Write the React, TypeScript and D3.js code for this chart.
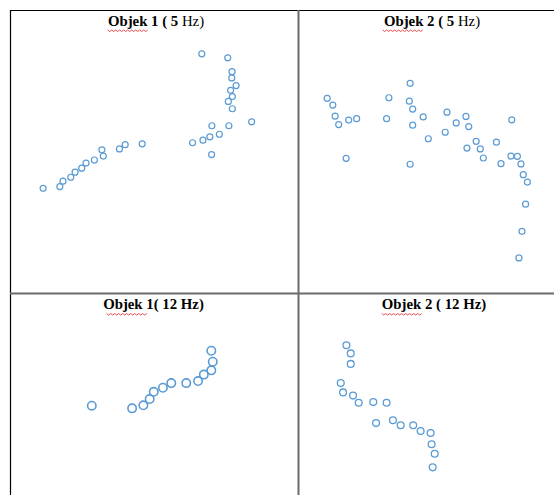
import React from "react";
import * as d3 from "d3";

const W = 554;
const H = 495;

// Panel titles
const titles = ["Objek 1 ( 5 Hz)", "Objek 2 ( 5 Hz)", "Objek 1( 12 Hz)", "Objek 2 ( 12 Hz)"];

// Objek 1 (5 Hz)
const obj1_5x = [66.6, 75.6, 77.1, 77.0, 78.5, 76.6, 77.2, 75.8, 77.2, 83.9, 76.0, 70.1, 72.7, 69.4, 67.0, 63.4, 70.0, 45.9, 40.0, 38.0, 31.9, 32.4, 29.3, 26.4, 24.9, 22.6, 21.1, 18.4, 17.3, 11.5];
const obj1_5y = [84.5, 83.1, 78.2, 76.0, 73.3, 71.6, 69.4, 67.7, 65.1, 60.5, 59.1, 59.1, 56.1, 55.2, 54.0, 53.1, 48.9, 52.7, 52.4, 50.9, 50.6, 48.4, 47.0, 45.9, 44.1, 42.7, 40.9, 39.5, 37.6, 37.0];

// Objek 2 (5 Hz)
const obj2_5x = [11.4, 13.6, 14.5, 15.9, 19.8, 22.9, 18.8, 35.5, 34.6, 43.8, 43.5, 44.8, 44.8, 43.8, 48.9, 50.9, 58.2, 57.5, 61.8, 65.6, 66.7, 66.0, 69.6, 71.2, 72.4, 77.5, 79.3, 83.5, 83.2, 85.7, 87.1, 88.0, 89.6, 88.9, 87.5, 86.3];
const obj2_5y = [68.8, 66.4, 62.5, 59.5, 61.1, 61.6, 47.6, 69.0, 61.6, 74.1, 67.8, 65.0, 59.3, 45.5, 62.2, 54.5, 63.9, 56.8, 60.1, 62.4, 58.8, 51.2, 53.6, 50.9, 47.7, 53.3, 45.7, 61.2, 48.4, 48.3, 45.6, 41.8, 39.2, 31.4, 21.8, 12.4];

// Objek 1 (12 Hz)
const obj1_12x = [28.4, 42.4, 46.3, 48.5, 49.9, 53.1, 56.0, 61.2, 65.3, 67.3, 69.9, 70.4, 69.9];
const obj1_12y = [44.2, 42.9, 44.4, 47.5, 51.1, 53.1, 55.4, 55.4, 56.4, 59.6, 61.7, 66.0, 71.4];

// Objek 2 (12 Hz)
const obj2_12x = [18.9, 20.6, 20.6, 16.7, 17.6, 21.5, 23.7, 29.4, 34.6, 30.5, 37.1, 40.1, 45.0, 47.9, 51.8, 52.2, 53.4, 52.6];
const obj2_12y = [74.1, 70.1, 64.9, 55.4, 50.8, 49.2, 45.7, 46.0, 45.7, 35.6, 37.0, 34.5, 34.5, 31.7, 30.7, 25.1, 20.4, 13.7];

const BLUE = "#5B9BD5";

type Panel = {
  xs: number[];
  ys: number[];
  x0: number; x1: number; y0: number; y1: number;
  title: string;
  tx: number; ty: number; sx: number;
  r: number; sw: number;
};

const panels: Panel[] = [
  { xs: obj1_5x, ys: obj1_5y, x0: 10, x1: 298, y0: 10, y1: 293, title: titles[0], tx: 156, ty: 25.5, sx: 107.7, r: 3, sw: 1.2 },
  { xs: obj2_5x, ys: obj2_5y, x0: 298, x1: 554, y0: 10, y1: 293, title: titles[1], tx: 432, ty: 25.5, sx: 382.7, r: 3, sw: 1.2 },
  { xs: obj1_12x, ys: obj1_12y, x0: 10, x1: 298, y0: 293, y1: 495, title: titles[2], tx: 153.5, ty: 309, sx: 106.7, r: 4.2, sw: 1.6 },
  { xs: obj2_12x, ys: obj2_12y, x0: 298, x1: 554, y0: 293, y1: 495, title: titles[3], tx: 434, ty: 309, sx: 381.7, r: 3.4, sw: 1.3 },
];

function Squiggle({ x, y, w }: { x: number; y: number; w: number }) {
  const pts: [number, number][] = [];
  for (let i = 0; i <= Math.round(w / 2); i++) pts.push([x + i * 2, y + (i % 2 === 0 ? 0 : 1.5)]);
  const line = d3.line();
  return <path d={line(pts) || ""} fill="none" stroke="#e02020" strokeWidth={0.8} />;
}

function Title({ p }: { p: Panel }) {
  const m = p.title.match(/^(Objek)(.*?)(Hz\))$/);
  const first = m ? m[1] : p.title;
  const mid = m ? m[2] : "";
  const hz = m ? m[3] : "";
  const top = p.y0 < 100;
  return (
    <g>
      <text x={p.tx} y={p.ty} textAnchor="middle" fontFamily="'Liberation Serif', 'Times New Roman', serif" fontSize={14.8} fill="#000">
        <tspan fontWeight="bold">{first}</tspan>
        <tspan fontWeight="bold">{mid}</tspan>
        <tspan fontWeight={top ? "normal" : "bold"}>{hz}</tspan>
      </text>
      <Squiggle x={p.sx} y={p.ty + 4.5} w={39} />
    </g>
  );
}

export default function App() {
  return (
    <svg width={W} height={H} style={{ position: "fixed", left: 0, top: 0, background: "#fff" }}>
      <rect x={0} y={0} width={W} height={H} fill="#fff" />
      {panels.map((p, i) => {
        const x = d3.scaleLinear().domain([0, 100]).range([p.x0, p.x1]);
        const y = d3.scaleLinear().domain([0, 100]).range([p.y1, p.y0]);
        return (
          <g key={i}>
            {p.xs.map((v, j) => (
              <circle key={j} cx={x(v)} cy={y(p.ys[j])} r={p.r} fill="none" stroke={BLUE} strokeWidth={p.sw} />
            ))}
            <Title p={p} />
          </g>
        );
      })}
      {/* table borders */}
      <line x1={10} x2={W} y1={10.5} y2={10.5} stroke="#000" strokeWidth={1.2} />
      <line x1={10.5} x2={10.5} y1={10} y2={H} stroke="#000" strokeWidth={1.2} />
      <line x1={298.5} x2={298.5} y1={10} y2={H} stroke="#6b6b6b" strokeWidth={2} />
      <line x1={10} x2={W} y1={293.5} y2={293.5} stroke="#6b6b6b" strokeWidth={2} />
    </svg>
  );
}
